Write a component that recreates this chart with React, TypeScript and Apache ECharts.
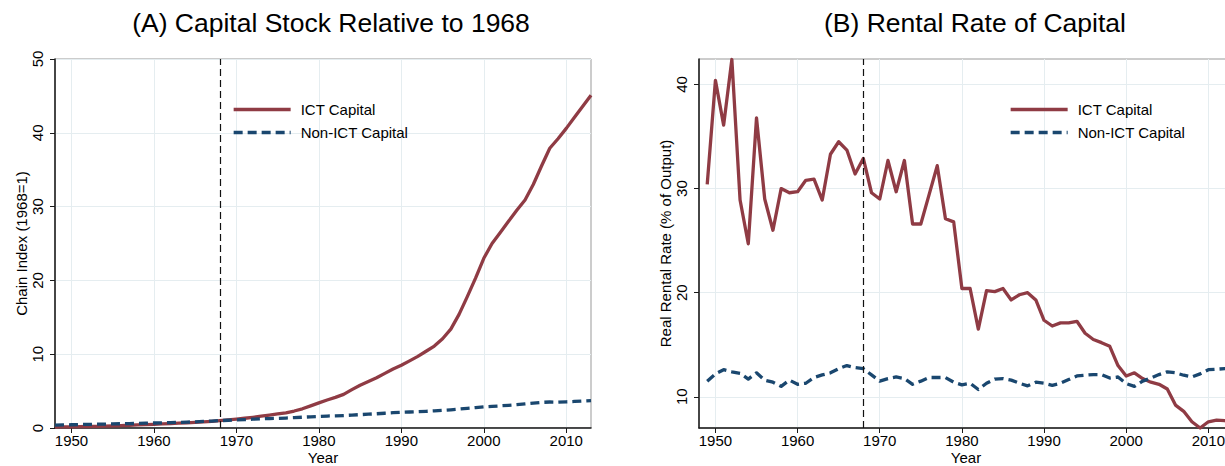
import React, { useEffect, useRef } from "react";
import * as echarts from "echarts";

// ---------- data ----------
const START_A = 1948; // Panel A data start year
const START_B = 1949; // Panel B data start year
const REF_YEAR = 1968;

const ICT_STOCK = [
  0.12, 0.14, 0.16, 0.18, 0.2, 0.23, 0.26, 0.29, 0.33, 0.37,
  0.41, 0.45, 0.5, 0.55, 0.6, 0.65, 0.7, 0.76, 0.83, 0.91,
  1.0, 1.1, 1.2, 1.32, 1.45, 1.6, 1.75, 1.9, 2.05, 2.3,
  2.6, 3.0, 3.4, 3.8, 4.15, 4.55, 5.2, 5.8, 6.3, 6.8,
  7.4, 8.0, 8.5, 9.1, 9.7, 10.4, 11.1, 12.1, 13.4, 15.4,
  17.8, 20.3, 23.0, 25.0, 26.5, 28.0, 29.5, 30.9, 33.0, 35.5,
  37.9, 39.2, 40.6, 42.1, 43.6, 45.1,
];
const NONICT_STOCK = [
  0.4, 0.42, 0.44, 0.47, 0.49, 0.51, 0.53, 0.55, 0.58, 0.6,
  0.62, 0.65, 0.68, 0.7, 0.73, 0.76, 0.8, 0.84, 0.89, 0.94,
  1.0, 1.05, 1.1, 1.14, 1.19, 1.24, 1.28, 1.31, 1.35, 1.4,
  1.46, 1.52, 1.57, 1.62, 1.65, 1.69, 1.75, 1.81, 1.87, 1.93,
  2.0, 2.07, 2.13, 2.17, 2.21, 2.26, 2.32, 2.39, 2.47, 2.56,
  2.66, 2.76, 2.86, 2.93, 3.0, 3.07, 3.16, 3.26, 3.37, 3.47,
  3.52, 3.5, 3.55, 3.6, 3.66, 3.72,
];
const ICT_RATE = [
  30.4, 40.4, 36.1, 42.4, 28.9, 24.7, 36.8, 29.0, 26.0, 30.0,
  29.6, 29.7, 30.8, 30.9, 28.9, 33.3, 34.5, 33.7, 31.4, 32.9,
  29.6, 29.0, 32.7, 29.7, 32.7, 26.6, 26.6, 29.4, 32.2, 27.1,
  26.8, 20.4, 20.4, 16.5, 20.2, 20.1, 20.4, 19.3, 19.8, 20.0,
  19.3, 17.35, 16.8, 17.1, 17.1, 17.25, 16.1, 15.5, 15.2, 14.85,
  13.0, 12.0, 12.3, 11.75, 11.4, 11.2, 10.75, 9.2, 8.6, 7.6,
  7.0, 7.6, 7.75, 7.7, 7.6,
];
const NONICT_RATE = [
  11.5, 12.2, 12.6, 12.4, 12.25, 11.7, 12.3, 11.6, 11.4, 11.0,
  11.6, 11.2, 11.3, 11.85, 12.1, 12.3, 12.7, 13.0, 12.8, 12.7,
  12.1, 11.5, 11.75, 11.9, 11.75, 11.2, 11.5, 11.85, 11.85, 11.85,
  11.4, 11.15, 11.3, 10.7, 11.3, 11.7, 11.75, 11.6, 11.3, 11.05,
  11.4, 11.3, 11.1, 11.3, 11.65, 12.0, 12.07, 12.13, 12.13, 11.8,
  11.9, 11.27, 11.0, 11.5, 11.8, 12.13, 12.4, 12.3, 12.07, 11.9,
  12.2, 12.6, 12.65, 12.7, 12.7,
];

const X_TICKS = [1950, 1960, 1970, 1980, 1990, 2000, 2010];
const YA_TICKS = [0, 10, 20, 30, 40, 50];
const YB_TICKS = [10, 20, 30, 40];
const SERIES_NAMES = ["ICT Capital", "Non-ICT Capital"];
const TITLES = ["(A) Capital Stock Relative to 1968", "(B) Rental Rate of Capital"];
const Y_NAMES = ["Chain Index (1968=1)", "Real Rental Rate (% of Output)"];
const X_NAME = "Year";

// ---------- style ----------
const FONT = "'Liberation Sans', Arial, Helvetica, sans-serif";
const RED = "#8f3b44";
const BLUE = "#1a476f";
const GRIDC = "#e5edf0";
const AXISC = "#1a1a1a";
const LW = 3.3;
const DASH = [9, 5];

function pairs(start: number, vals: number[]) {
  return vals.map((v, i) => [start + i, v]);
}

export default function App() {
  const ref = useRef<HTMLDivElement>(null);
  useEffect(() => {
    if (!ref.current) return;
    const chart = echarts.init(ref.current, undefined, { renderer: "svg" });

    const xAxis = (gi: number) => ({
      type: "value",
      gridIndex: gi,
      min: 1948,
      max: 2013,
      minInterval: 10,
      maxInterval: 10,
      name: X_NAME,
      nameLocation: "middle",
      nameGap: 22,
      nameMoveOverlap: false,
      nameTextStyle: { fontSize: 15, color: "#000", fontFamily: FONT, lineHeight: 15 },
      axisLine: { show: true, onZero: false, lineStyle: { color: AXISC, width: 1.5 } },
      axisTick: { show: true, length: 5, customValues: X_TICKS, lineStyle: { color: AXISC, width: 1 } },
      axisLabel: {
        customValues: X_TICKS,
        formatter: (v: number) => String(v),
        margin: 5,
        fontSize: 15,
        lineHeight: 15,
        color: "#000",
        fontFamily: FONT,
      },
      splitLine: { show: true, lineStyle: { color: GRIDC, width: 1 } },
    });

    const yCommon = {
      type: "value",
      nameLocation: "middle",
      nameGap: 26,
      nameMoveOverlap: false,
      nameTextStyle: { fontSize: 15, color: "#000", fontFamily: FONT },
      axisLine: { show: true, onZero: false, lineStyle: { color: AXISC, width: 1.5 } },
      axisLabel: { show: false },
      splitLine: { show: true, lineStyle: { color: GRIDC, width: 1 } },
    };

    const legendData = [
      { name: SERIES_NAMES[0], itemStyle: { opacity: 0 }, lineStyle: { color: RED, width: LW, type: "solid", opacity: 1 } },
      { name: SERIES_NAMES[1], itemStyle: { opacity: 0 }, lineStyle: { color: BLUE, width: LW, type: DASH, opacity: 1 } },
    ];
    const legend = (left: number) => ({
      left,
      top: 102,
      orient: "vertical",
      padding: 0,
      itemWidth: 57,
      itemHeight: 14,
      itemGap: 8,
      selectedMode: false,
      data: legendData,
      textStyle: { fontSize: 15, color: "#000", fontFamily: FONT, padding: [0, 0, 0, 5] },
    });

    const refLine = {
      silent: true,
      symbol: ["none", "none"],
      label: { show: false },
      lineStyle: { color: "#111", width: 1.2, type: [7, 4] },
      data: [{ xAxis: REF_YEAR }],
    };

    const lineSeries = (name: string, gi: number, data: number[][], color: string, dashed: boolean, mark?: any) => ({
      type: "line",
      name,
      xAxisIndex: gi,
      yAxisIndex: gi,
      data,
      symbol: "none",
      showSymbol: false,
      clip: false,
      lineStyle: { color, width: LW, type: dashed ? DASH : "solid", cap: "butt", join: "round" },
      itemStyle: { color },
      markLine: mark,
    });

    const gridBase = { top: 59, height: 369, show: true, borderColor: "#999", borderWidth: 1, containLabel: false, outerBoundsMode: "none" };

    chart.setOption({
      animation: false,
      backgroundColor: "#fff",
      textStyle: { fontFamily: FONT },
      title: [
        { text: TITLES[0], left: 331, top: 9, textAlign: "center", padding: 0, textStyle: { fontSize: 26.5, fontWeight: "normal", color: "#000", fontFamily: FONT } },
        { text: TITLES[1], left: 975, top: 9, textAlign: "center", padding: 0, textStyle: { fontSize: 26.5, fontWeight: "normal", color: "#000", fontFamily: FONT } },
      ],
      legend: [legend(232), legend(1009)],
      grid: [
        { ...gridBase, left: 55, width: 536 },
        { ...gridBase, left: 699, width: 534 },
      ],
      xAxis: [xAxis(0), xAxis(1)],
      yAxis: [
        {
          ...yCommon,
          gridIndex: 0,
          min: 0,
          max: 50,
          interval: 10,
          name: Y_NAMES[0],
          axisTick: { show: true, length: 5, lineStyle: { color: AXISC, width: 1 } },
        },
        {
          ...yCommon,
          gridIndex: 1,
          min: 7,
          max: 42.45,
          minInterval: 10,
          maxInterval: 10,
          name: Y_NAMES[1],
          axisTick: { show: true, length: 5, customValues: YB_TICKS, lineStyle: { color: AXISC, width: 1 } },
        },
      ],
      series: [
        lineSeries(SERIES_NAMES[0], 0, pairs(START_A, ICT_STOCK), RED, false, refLine),
        lineSeries(SERIES_NAMES[1], 0, pairs(START_A, NONICT_STOCK), BLUE, true),
        lineSeries(SERIES_NAMES[0], 1, pairs(START_B, ICT_RATE), RED, false, refLine),
        lineSeries(SERIES_NAMES[1], 1, pairs(START_B, NONICT_RATE), BLUE, true),
      ],
    });

    // rotated y tick labels (Stata style), placed through the chart's own scales
    const labels: any[] = [];
    const addLabels = (gi: number, ticks: number[]) => {
      ticks.forEach((v) => {
        const p = chart.convertToPixel({ gridIndex: gi }, [1948, v]) as number[];
        labels.push({
          type: "text",
          x: p[0] - 10,
          y: p[1],
          rotation: Math.PI / 2,
          silent: true,
          style: {
            text: String(v),
            fontSize: 15,
            fontFamily: FONT,
            fill: "#000",
            align: "center",
            verticalAlign: "bottom",
          },
        });
      });
    };
    addLabels(0, YA_TICKS);
    addLabels(1, YB_TICKS);
    chart.setOption({ graphic: labels });

    return () => chart.dispose();
  }, []);

  return (
    <div style={{ position: "fixed", left: 0, top: 0, width: 1225, height: 466, overflow: "hidden", background: "#fff" }}>
      <div ref={ref} style={{ width: 1245, height: 466 }} />
    </div>
  );
}
